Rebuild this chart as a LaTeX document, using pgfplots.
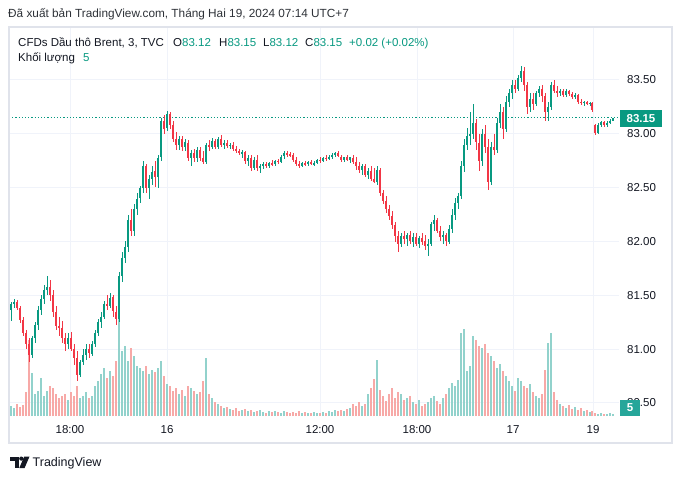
\documentclass[border=0pt]{standalone}
\usepackage{pgfplots}
\pgfplotsset{compat=1.18}
\usepackage{pgfplotstable}
\usepackage{fontspec}
\setmainfont{Liberation Sans}
\definecolor{upc}{HTML}{089981}
\definecolor{dnc}{HTML}{F23645}
\definecolor{vup}{HTML}{92D2CC}
\definecolor{vdn}{HTML}{F7A9A7}
\definecolor{gridc}{HTML}{F0F3FA}
\definecolor{framec}{HTML}{E0E3EB}
\definecolor{txt}{HTML}{131722}
\definecolor{hdr}{HTML}{2E3238}
\definecolor{volbox}{HTML}{26A69A}

% x = horizontal position of the 3-minute candle group (pixels along the time axis)
% o h l c = open high low close (USD), v = volume
\pgfplotstableread{
x o h l c v
11 81.36 81.44 81.26 81.42 25
14 81.42 81.47 81.38 81.44 20
17 81.44 81.46 81.36 81.38 30
20 81.38 81.40 81.24 81.27 22
23 81.27 81.30 81.12 81.15 28
26 81.15 81.18 81.00 81.05 60
29 81.05 81.10 80.88 80.95 190
32 80.95 81.12 80.92 81.10 108
35 81.10 81.25 81.06 81.22 55
38 81.22 81.40 81.18 81.36 62
41 81.36 81.50 81.32 81.47 95
44 81.47 81.60 81.42 81.55 50
47 81.55 81.68 81.50 81.58 62
50 81.58 81.64 81.45 81.50 75
53 81.50 81.55 81.30 81.35 70
56 81.35 81.40 81.18 81.22 55
59 81.22 81.30 81.12 81.20 45
62 81.20 81.26 81.06 81.10 50
65 81.10 81.15 80.98 81.05 55
68 81.05 81.15 81.00 81.10 40
71 81.10 81.16 80.98 81.00 60
74 81.00 81.05 80.85 80.92 50
77 80.92 80.98 80.70 80.76 75
80 80.76 80.90 80.74 80.88 45
83 80.88 81.00 80.85 80.95 50
86 80.95 81.05 80.90 81.00 60
89 81.00 81.05 80.92 80.96 45
92 80.96 81.08 80.94 81.05 50
95 81.05 81.18 81.02 81.15 75
98 81.15 81.28 81.12 81.25 88
101 81.25 81.35 81.20 81.30 105
104 81.30 81.45 81.28 81.42 120
107 81.42 81.50 81.36 81.40 95
110 81.40 81.52 81.38 81.48 112
113 81.48 81.50 81.30 81.35 100
116 81.35 81.40 81.22 81.28 138
119 81.28 81.72 81.25 81.68 242
122 81.68 81.90 81.62 81.85 162
125 81.85 82.00 81.80 81.95 175
128 81.95 82.25 81.90 82.20 138
131 82.20 82.30 82.05 82.10 170
134 82.10 82.35 82.05 82.30 150
137 82.30 82.45 82.25 82.40 125
140 82.40 82.52 82.36 82.50 120
143 82.50 82.75 82.45 82.70 112
146 82.70 82.72 82.45 82.50 125
149 82.50 82.62 82.40 82.58 105
152 82.58 82.70 82.52 82.65 115
155 82.65 82.75 82.51 82.60 110
158 82.60 82.80 82.50 82.78 120
161 82.78 83.15 82.75 83.12 138
164 83.12 83.18 83.00 83.05 100
167 83.05 83.21 83.03 83.18 80
170 83.18 83.20 83.05 83.08 75
173 83.08 83.12 82.92 82.95 62
176 82.95 83.02 82.85 82.90 70
179 82.90 82.98 82.85 82.95 55
182 82.95 82.98 82.84 82.88 65
185 82.88 82.95 82.84 82.92 50
188 82.92 82.94 82.75 82.78 75
191 82.78 82.85 82.70 82.82 70
194 82.82 82.86 82.74 82.78 62
197 82.78 82.88 82.74 82.85 55
200 82.85 82.88 82.75 82.78 60
203 82.78 82.84 82.72 82.74 88
206 82.74 82.92 82.72 82.90 145
209 82.90 82.94 82.84 82.88 55
212 82.88 82.96 82.86 82.93 45
215 82.93 82.95 82.86 82.88 35
218 82.88 82.97 82.86 82.95 30
221 82.95 82.99 82.88 82.90 25
224 82.90 82.94 82.86 82.92 20
227 82.92 82.94 82.87 82.89 22
230 82.89 82.92 82.86 82.90 18
233 82.90 82.92 82.84 82.86 15
236 82.86 82.89 82.82 82.84 20
239 82.84 82.86 82.80 82.82 12
242 82.82 82.85 82.78 82.83 15
245 82.83 82.84 82.72 82.75 18
248 82.75 82.80 82.70 82.78 12
251 82.78 82.80 82.66 82.68 15
254 82.68 82.78 82.66 82.76 10
257 82.76 82.80 82.66 82.68 12
260 82.68 82.72 82.64 82.70 15
263 82.70 82.74 82.67 82.72 10
266 82.72 82.74 82.68 82.70 8
269 82.70 82.74 82.68 82.73 12
272 82.73 82.76 82.70 82.72 10
275 82.72 82.76 82.70 82.75 12
278 82.75 82.77 82.72 82.74 10
281 82.74 82.80 82.73 82.79 8
284 82.79 82.84 82.77 82.82 12
287 82.82 82.84 82.79 82.81 10
290 82.81 82.83 82.78 82.80 8
293 82.80 82.82 82.74 82.76 10
296 82.76 82.78 82.70 82.72 8
299 82.72 82.75 82.68 82.70 12
302 82.70 82.74 82.69 82.73 8
305 82.73 82.75 82.70 82.72 10
308 82.72 82.75 82.70 82.74 8
311 82.74 82.76 82.71 82.72 8
314 82.72 82.75 82.70 82.73 10
317 82.73 82.77 82.72 82.76 8
320 82.76 82.78 82.73 82.75 8
323 82.75 82.79 82.74 82.78 10
326 82.78 82.80 82.75 82.77 8
329 82.77 82.80 82.76 82.79 12
332 82.79 82.82 82.77 82.80 10
335 82.80 82.83 82.78 82.82 15
338 82.82 82.84 82.78 82.79 12
341 82.79 82.80 82.74 82.76 15
344 82.76 82.79 82.74 82.78 12
347 82.78 82.80 82.75 82.76 18
350 82.76 82.79 82.73 82.78 20
353 82.78 82.80 82.72 82.74 30
356 82.74 82.78 82.66 82.70 25
359 82.70 82.74 82.64 82.66 35
362 82.66 82.72 82.62 82.70 25
365 82.70 82.72 82.60 82.62 30
368 82.62 82.68 82.58 82.66 55
371 82.66 82.70 82.56 82.58 70
374 82.58 82.68 82.54 82.55 92
377 82.55 82.70 82.52 82.66 140
380 82.66 82.68 82.42 82.45 65
383 82.45 82.48 82.35 82.38 50
386 82.38 82.42 82.26 82.30 38
389 82.30 82.34 82.20 82.24 55
392 82.24 82.28 82.12 82.15 70
395 82.15 82.18 82.00 82.05 45
398 82.05 82.10 81.90 81.98 60
401 81.98 82.08 81.95 82.05 55
404 82.05 82.10 81.98 82.02 40
407 82.02 82.08 81.96 82.06 45
410 82.06 82.10 81.98 82.00 50
413 82.00 82.08 81.95 82.04 35
416 82.04 82.08 81.96 81.98 30
419 81.98 82.05 81.94 82.03 40
422 82.03 82.08 81.97 82.00 25
425 82.00 82.06 81.92 81.96 30
428 81.96 82.02 81.87 81.98 35
431 81.98 82.18 81.96 82.16 45
434 82.16 82.25 82.10 82.20 50
437 82.20 82.22 82.08 82.10 38
440 82.10 82.14 82.00 82.04 30
443 82.04 82.10 81.98 82.06 45
446 82.06 82.08 81.96 82.00 55
449 82.00 82.15 81.98 82.12 70
452 82.12 82.30 82.08 82.25 82
455 82.25 82.40 82.20 82.36 75
458 82.36 82.45 82.30 82.42 90
461 82.42 82.75 82.40 82.70 208
464 82.70 82.95 82.65 82.90 218
467 82.90 83.05 82.85 82.98 112
470 82.98 83.20 82.90 83.00 125
473 83.00 83.28 82.95 83.10 200
476 83.10 83.14 82.85 82.92 190
479 82.92 83.00 82.65 82.75 175
482 82.75 83.05 82.70 83.00 170
485 83.00 83.08 82.82 82.88 180
488 82.88 82.95 82.48 82.55 158
491 82.55 82.92 82.52 82.88 150
494 82.88 83.00 82.80 82.85 138
497 82.85 83.15 82.82 83.10 120
500 83.10 83.28 83.05 83.20 130
503 83.20 83.25 82.95 83.05 112
506 83.05 83.35 83.02 83.30 100
509 83.30 83.42 83.25 83.38 88
512 83.38 83.50 83.32 83.45 75
515 83.45 83.50 83.38 83.42 62
518 83.42 83.55 83.40 83.52 95
521 83.52 83.63 83.48 83.58 88
524 83.58 83.62 83.40 83.45 75
527 83.45 83.48 83.18 83.25 70
530 83.25 83.38 83.20 83.32 80
533 83.32 83.38 83.22 83.28 60
536 83.28 83.40 83.26 83.38 50
539 83.38 83.44 83.34 83.42 45
542 83.42 83.45 83.30 83.35 55
545 83.35 83.38 83.12 83.20 115
548 83.20 83.30 83.12 83.25 182
551 83.25 83.48 83.22 83.45 208
554 83.45 83.50 83.38 83.40 60
557 83.40 83.44 83.34 83.38 40
560 83.38 83.42 83.35 83.40 30
563 83.40 83.42 83.34 83.36 25
566 83.36 83.42 83.34 83.40 20
569 83.40 83.41 83.35 83.37 28
572 83.37 83.39 83.32 83.34 18
575 83.34 83.38 83.32 83.36 22
578 83.36 83.37 83.28 83.30 15
581 83.30 83.32 83.27 83.29 20
584 83.29 83.31 83.26 83.30 12
587 83.30 83.31 83.27 83.28 15
590 83.28 83.30 83.26 83.29 10
592 83.29 83.30 83.20 83.22 12
595 83.08 83.09 82.99 83.01 8
598 83.01 83.10 83.00 83.08 5
601 83.08 83.12 83.06 83.11 8
604 83.11 83.12 83.06 83.08 5
607 83.08 83.12 83.06 83.10 5
610 83.10 83.14 83.09 83.12 8
613 83.12 83.15 83.12 83.15 5
}\candles

\def\vb{80.379}
\def\vk{0.003715}

\begin{document}
\begin{tikzpicture}[x=1pt,y=1pt]
\useasboundingbox (0,0) rectangle (682,-479);
\fill[white] (0,0) rectangle (682,-479);
\begin{axis}[
  at={(9pt,-416pt)}, anchor=south west,
  scale only axis, width=610pt, height=389pt,
  xmin=9, xmax=619, ymin=80.379, ymax=83.992,
  axis line style={draw=none}, major tick length=0pt,
  grid=major, major grid style={draw=gridc, line width=1pt},
  xtick={70,167,320,417,513,593},
  xticklabels={18:00,16,12:00,18:00,17,19},
  xticklabel style={anchor=center, yshift=-14pt, font=\fontsize{11.5}{13}\selectfont, text=txt},
  ytick={80.5,81,81.5,82,82.5,83,83.5},
  yticklabels={80.50,81.00,81.50,82.00,82.50,83.00,83.50},
  yticklabel pos=right,
  yticklabel style={anchor=west, inner sep=0pt, xshift=8pt, font=\fontsize{11.5}{13}\selectfont, text=txt},
  clip=true,
]
% volume
\addplot[ycomb, draw=vup, line width=2.4pt, mark=none, forget plot]
  table[x=x, y expr={\thisrow{c}>=\thisrow{o} ? \vb+\thisrow{v}*\vk : nan}] {\candles};
\addplot[ycomb, draw=vdn, line width=2.4pt, mark=none, forget plot]
  table[x=x, y expr={\thisrow{c}<\thisrow{o} ? \vb+\thisrow{v}*\vk : nan}] {\candles};
% last price line
\addplot[draw=upc, line width=1.1pt, dash pattern=on 1.2pt off 2pt, forget plot] coordinates {(9,83.15) (619,83.15)};
% wicks
\addplot[draw=none, mark=none, forget plot,
  error bars/.cd, y dir=both, y explicit, error mark=none,
  error bar style={line width=0.9pt, draw=upc}]
  table[x=x, y expr={\thisrow{c}>=\thisrow{o} ? (\thisrow{h}+\thisrow{l})/2 : nan},
        y error plus expr={(\thisrow{h}-\thisrow{l})/2},
        y error minus expr={(\thisrow{h}-\thisrow{l})/2}] {\candles};
\addplot[draw=none, mark=none, forget plot,
  error bars/.cd, y dir=both, y explicit, error mark=none,
  error bar style={line width=0.9pt, draw=dnc}]
  table[x=x, y expr={\thisrow{c}<\thisrow{o} ? (\thisrow{h}+\thisrow{l})/2 : nan},
        y error plus expr={(\thisrow{h}-\thisrow{l})/2},
        y error minus expr={(\thisrow{h}-\thisrow{l})/2}] {\candles};
% bodies
\addplot[draw=none, mark=none, forget plot,
  error bars/.cd, y dir=both, y explicit, error mark=none,
  error bar style={line width=2pt, draw=upc}]
  table[x=x, y expr={\thisrow{c}>=\thisrow{o} ? (\thisrow{o}+\thisrow{c})/2 : nan},
        y error plus expr={max(abs(\thisrow{c}-\thisrow{o})/2,0.005)},
        y error minus expr={max(abs(\thisrow{c}-\thisrow{o})/2,0.005)}] {\candles};
\addplot[draw=none, mark=none, forget plot,
  error bars/.cd, y dir=both, y explicit, error mark=none,
  error bar style={line width=2pt, draw=dnc}]
  table[x=x, y expr={\thisrow{c}<\thisrow{o} ? (\thisrow{o}+\thisrow{c})/2 : nan},
        y error plus expr={max(abs(\thisrow{c}-\thisrow{o})/2,0.005)},
        y error minus expr={max(abs(\thisrow{c}-\thisrow{o})/2,0.005)}] {\candles};
\end{axis}
% frame
\draw[framec, line width=1.5pt] (9,-27) rectangle (672,-443);
% header
\node[anchor=base west, inner sep=0pt, text=hdr, font=\fontsize{11.8}{13}\selectfont] at (8,-17.5) {Đã xuất bản TradingView.com, Tháng Hai 19, 2024 07:14 UTC+7};
% legend
\begin{scope}[every node/.style={anchor=base west, inner sep=0pt, font=\fontsize{11.5}{13}\selectfont}]
\node[text=txt] at (18,-46) {CFDs Dầu thô Brent, 3, TVC};
\node[text=txt] at (173,-46) {O\textcolor{upc}{83.12}};
\node[text=txt] at (219,-46) {H\textcolor{upc}{83.15}};
\node[text=txt] at (263,-46) {L\textcolor{upc}{83.12}};
\node[text=txt] at (305,-46) {C\textcolor{upc}{83.15}};
\node[text=upc] at (349,-46) {+0.02 (+0.02\%)};
\node[text=txt] at (18,-61.5) {Khối lượng};
\node[text=upc] at (83,-61.5) {5};
\end{scope}
% price label boxes
\fill[upc] (620,-110) rectangle (662,-127);
\node[text=white, font=\bfseries\fontsize{11.5}{13}\selectfont, inner sep=0pt] at (641,-118.5) {83.15};
\fill[volbox] (620,-400) rectangle (640,-416);
\node[text=white, font=\bfseries\fontsize{11.5}{13}\selectfont, inner sep=0pt] at (630,-408) {5};
% footer logo
\fill[txt] (10,-456.5) rectangle (19,-460.5);
\fill[txt] (14.5,-460.5) rectangle (18.5,-468);
\fill[txt] (21.3,-458.6) circle (2.1);
\fill[txt] (24.2,-456.5) -- (29.5,-456.5) -- (24.6,-468) -- (19.3,-468) -- cycle;
\node[anchor=base west, inner sep=0pt, text=txt, font=\fontsize{12.5}{14}\selectfont] at (32.5,-466.5) {TradingView};
\end{tikzpicture}
\end{document}
